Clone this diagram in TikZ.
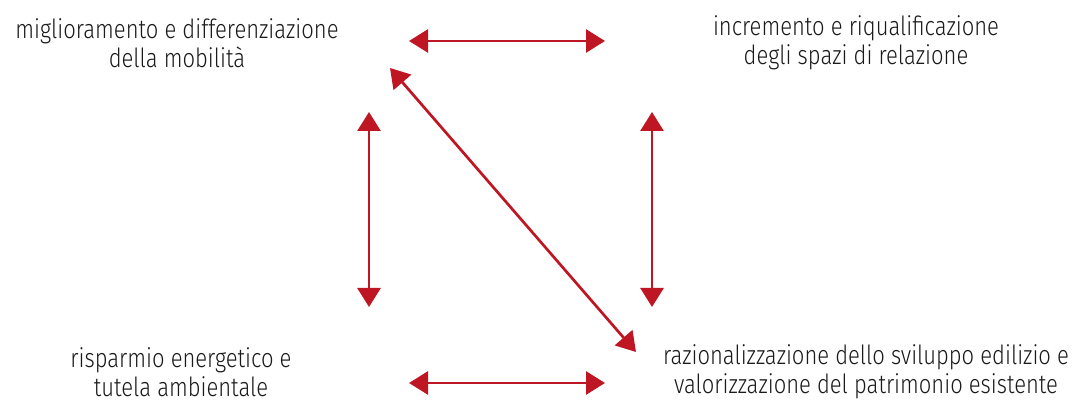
\documentclass[tikz,border=0pt]{standalone}
\usepackage{fontspec}
\setmainfont{Fira Sans}[UprightFont=* Light]
\usetikzlibrary{arrows.meta}
\definecolor{arrred}{HTML}{BE1622}
\definecolor{txt}{HTML}{1A1A1A}
\tikzset{
  lbl/.style={align=center, inner sep=0pt, text=txt, font=\fontsize{22}{24.5}\selectfont, yscale=1.2, transform shape},
  dbl/.style={draw=arrred, line width=2.7pt, {Triangle[length=19pt,width=23pt]}-{Triangle[length=19pt,width=23pt]}}
}
\begin{document}
\begin{tikzpicture}[x=1pt,y=-1pt]
\useasboundingbox (0,0) rectangle (1077,403);
\node[lbl] (tl) at (177,43) {miglioramento e differenziazione\\della mobilità};
\node[lbl] (tr) at (856,43) {incremento e riqualificazione\\degli spazi di relazione};
\node[lbl] (bl) at (181,372) {risparmio energetico e\\tutela ambientale};
\node[lbl] (br) at (866,372) {razionalizzazione dello sviluppo edilizio e\\valorizzazione del patrimonio esistente};
\coordinate (a1) at (409,41); \coordinate (a2) at (605,41);
\coordinate (b1) at (409,383); \coordinate (b2) at (605,383);
\coordinate (l1) at (369,112); \coordinate (l2) at (369,307);
\coordinate (r1) at (652,112); \coordinate (r2) at (652,307);
\coordinate (d1) at (390,68); \coordinate (d2) at (636,352);
\draw[dbl] (a1) -- (a2);
\draw[dbl] (b1) -- (b2);
\draw[dbl] (l1) -- (l2);
\draw[dbl] (r1) -- (r2);
\draw[dbl] (d1) -- (d2);
\end{tikzpicture}
\end{document}
